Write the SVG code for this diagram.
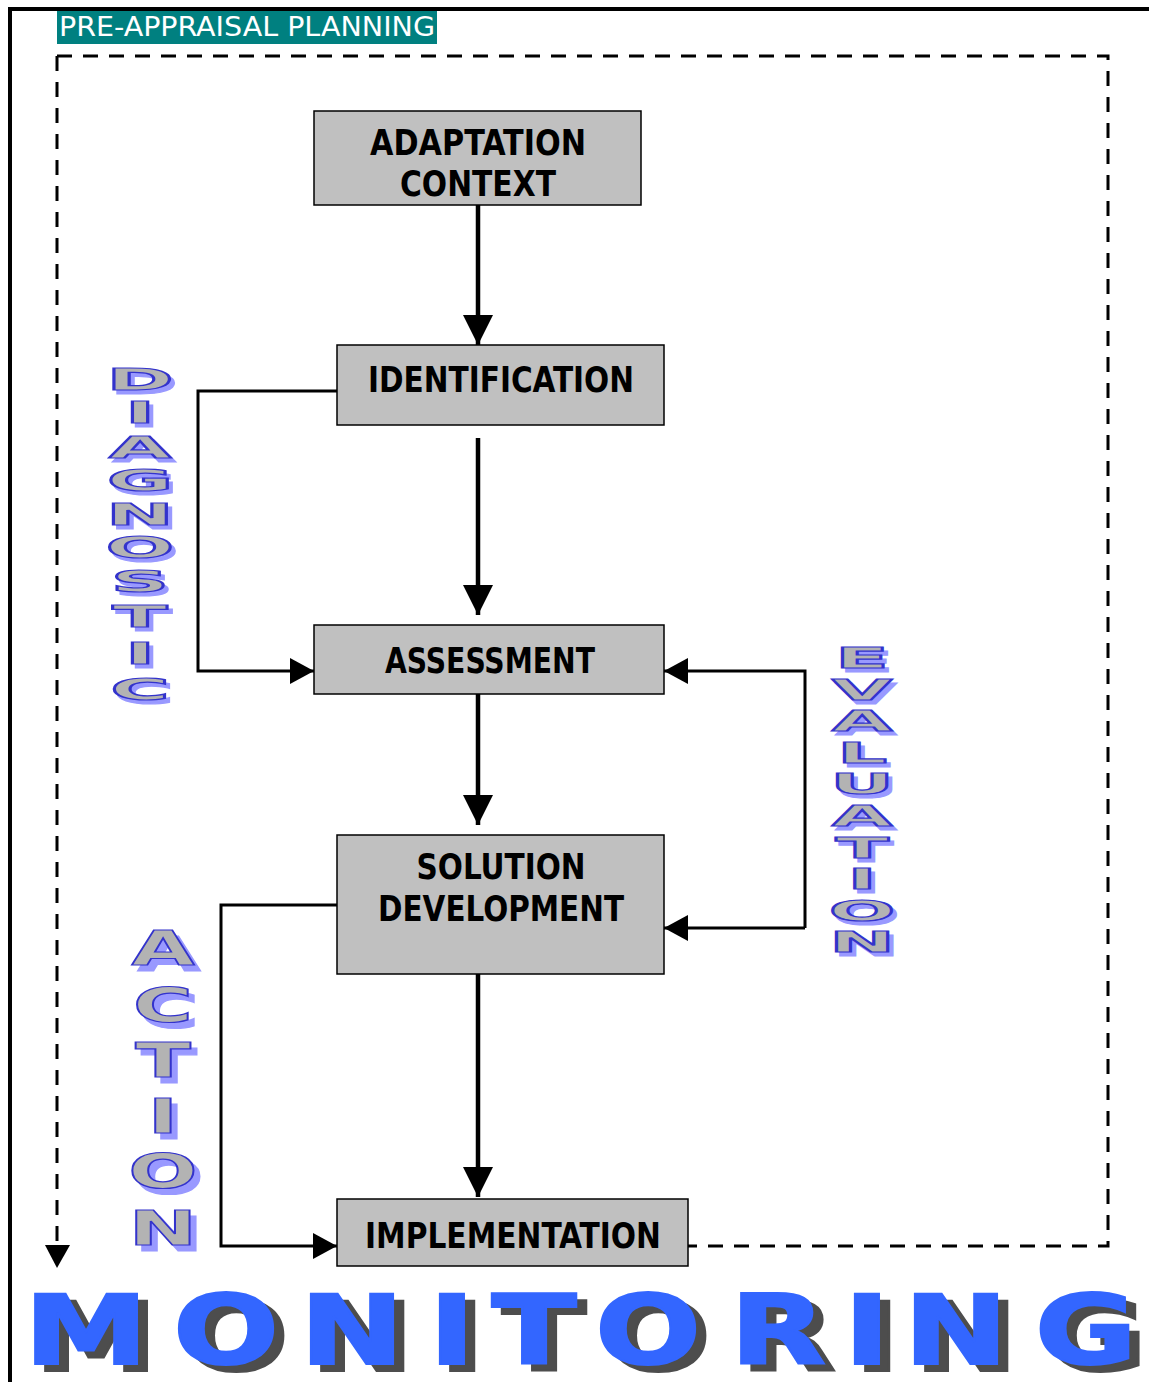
<svg xmlns="http://www.w3.org/2000/svg" width="1149" height="1382" viewBox="0 0 1149 1382">
<style>
.frame{fill:none;stroke:#000;stroke-width:4}
.dash{fill:none;stroke:#000;stroke-width:3;stroke-dasharray:15 11}
.box rect{fill:#c0c0c0;stroke:#000;stroke-width:1.5}
.box text{font-family:"DejaVu Sans Condensed","DejaVu Sans",sans-serif;font-stretch:condensed;font-weight:bold;font-size:35px;text-anchor:middle;fill:#000}
.thick{fill:none;stroke:#000;stroke-width:4.5}
.thin{fill:none;stroke:#000;stroke-width:3}
.vl text{font-family:"DejaVu Sans","Liberation Sans",sans-serif;font-weight:bold;text-anchor:middle}
.vl .fg{fill:#b3b3b3;stroke:#3333cc;stroke-width:1.2}
.vl .sh{fill:#9999ff;stroke:#9999ff;stroke-width:1.2}
.mon{font-family:"DejaVu Sans","Liberation Sans",sans-serif;font-weight:bold;font-size:96px;text-anchor:middle;stroke-width:2}
.label{font-family:"DejaVu Sans Condensed","DejaVu Sans",sans-serif;font-stretch:condensed;font-size:27px;fill:#fff}
</style>
<defs>
<marker id="big" markerUnits="userSpaceOnUse" markerWidth="30" markerHeight="30" refX="30" refY="15" orient="auto"><path d="M0,0 L30,15 L0,30 Z" fill="#000"/></marker>
<marker id="small" markerUnits="userSpaceOnUse" markerWidth="24" markerHeight="26" refX="24" refY="13" orient="auto"><path d="M0,0 L24,13 L0,26 Z" fill="#000"/></marker>
</defs>
<rect width="1149" height="1382" fill="#fff"/>
<path class="frame" d="M10,1382 V9 H1149"/>
<g id="label">
<rect x="57" y="11" width="380" height="33" fill="#008080"/>
<text class="label" x="59" y="36" textLength="376" lengthAdjust="spacingAndGlyphs">PRE-APPRAISAL PLANNING</text>
</g>
<g id="connectors">
<path class="dash" d="M57,56 H1108 V1246 H688"/>
<path class="dash" d="M57,56 V1246"/>
<path d="M45,1245 L70,1245 L57,1268 Z" fill="#000"/>
<path class="thick" d="M478,205 V345" marker-end="url(#big)"/>
<path class="thick" d="M478,438 V615" marker-end="url(#big)"/>
<path class="thick" d="M478,694 V825" marker-end="url(#big)"/>
<path class="thick" d="M478,974 V1197" marker-end="url(#big)"/>
<path class="thin" d="M337,391 H198 V671 H314" marker-end="url(#small)"/>
<path class="thin" d="M805,928 V671 H664" marker-end="url(#small)"/>
<path class="thin" d="M805,928 H664" marker-end="url(#small)"/>
<path class="thin" d="M337,905 H221 V1246 H337" marker-end="url(#small)"/>
</g>
<g id="adaptation" class="box"><rect x="314" y="111" width="327" height="94"/>
<text x="478" y="155" textLength="216" lengthAdjust="spacingAndGlyphs">ADAPTATION</text>
<text x="478" y="196" textLength="156" lengthAdjust="spacingAndGlyphs">CONTEXT</text></g>
<g id="identification" class="box"><rect x="337" y="345" width="327" height="80"/>
<text x="501" y="392" textLength="266" lengthAdjust="spacingAndGlyphs">IDENTIFICATION</text></g>
<g id="assessment" class="box"><rect x="314" y="625" width="350" height="69"/>
<text x="490" y="673" textLength="210" lengthAdjust="spacingAndGlyphs">ASSESSMENT</text></g>
<g id="solution" class="box"><rect x="337" y="835" width="327" height="139"/>
<text x="501" y="879" textLength="169" lengthAdjust="spacingAndGlyphs">SOLUTION</text>
<text x="501" y="921" textLength="246" lengthAdjust="spacingAndGlyphs">DEVELOPMENT</text></g>
<g id="implementation" class="box"><rect x="337" y="1199" width="351" height="67"/>
<text x="513" y="1248" textLength="296" lengthAdjust="spacingAndGlyphs">IMPLEMENTATION</text></g>
<g id="diagnostic" class="vl" transform="scale(2.7,1)" font-size="30">
<g transform="translate(1.5,4)">
<text class="sh" x="51.85" y="390">D</text><text class="sh" x="51.85" y="423">I</text><text class="sh" x="51.85" y="458">A</text><text class="sh" x="51.85" y="491">G</text><text class="sh" x="51.85" y="525">N</text><text class="sh" x="51.85" y="558">O</text><text class="sh" x="51.85" y="592">S</text><text class="sh" x="51.85" y="627">T</text><text class="sh" x="51.85" y="664">I</text><text class="sh" x="51.85" y="700">C</text>
</g>
<g>
<text class="fg" x="51.85" y="390">D</text><text class="fg" x="51.85" y="423">I</text><text class="fg" x="51.85" y="458">A</text><text class="fg" x="51.85" y="491">G</text><text class="fg" x="51.85" y="525">N</text><text class="fg" x="51.85" y="558">O</text><text class="fg" x="51.85" y="592">S</text><text class="fg" x="51.85" y="627">T</text><text class="fg" x="51.85" y="664">I</text><text class="fg" x="51.85" y="700">C</text>
</g>
</g>
<g id="evaluation" class="vl" transform="scale(2.7,1)" font-size="29">
<g transform="translate(1.5,4)">
<text class="sh" x="319.3" y="668">E</text><text class="sh" x="319.3" y="700">V</text><text class="sh" x="319.3" y="731">A</text><text class="sh" x="319.3" y="763">L</text><text class="sh" x="319.3" y="794">U</text><text class="sh" x="319.3" y="826">A</text><text class="sh" x="319.3" y="858">T</text><text class="sh" x="319.3" y="889">I</text><text class="sh" x="319.3" y="921">O</text><text class="sh" x="319.3" y="952">N</text>
</g>
<g>
<text class="fg" x="319.3" y="668">E</text><text class="fg" x="319.3" y="700">V</text><text class="fg" x="319.3" y="731">A</text><text class="fg" x="319.3" y="763">L</text><text class="fg" x="319.3" y="794">U</text><text class="fg" x="319.3" y="826">A</text><text class="fg" x="319.3" y="858">T</text><text class="fg" x="319.3" y="889">I</text><text class="fg" x="319.3" y="921">O</text><text class="fg" x="319.3" y="952">N</text>
</g>
</g>
<g id="action" class="vl" transform="scale(1.7,1)" font-size="48">
<g transform="translate(3.5,6)">
<text class="sh" x="95.9" y="965">A</text><text class="sh" x="95.9" y="1022">C</text><text class="sh" x="95.9" y="1077">T</text><text class="sh" x="95.9" y="1133">I</text><text class="sh" x="95.9" y="1188">O</text><text class="sh" x="95.9" y="1245">N</text>
</g>
<g>
<text class="fg" x="95.9" y="965">A</text><text class="fg" x="95.9" y="1022">C</text><text class="fg" x="95.9" y="1077">T</text><text class="fg" x="95.9" y="1133">I</text><text class="fg" x="95.9" y="1188">O</text><text class="fg" x="95.9" y="1245">N</text>
</g>
</g>
<g id="monitoring" transform="scale(1.3,1)">
<text class="mon" fill="#4d4d4d" stroke="#4d4d4d" x="70,177.7,274.6,351.5,414.6,502.3,602.3,670.8,739.2,839.2" y="1371" transform="translate(4,0)">MONITORING</text>
<text class="mon" fill="#3366ff" stroke="#3366ff" x="66.2,173.8,270.8,347.7,410.8,498.5,598.5,666.9,735.4,835.4" y="1364">MONITORING</text>
</g>
</svg>
